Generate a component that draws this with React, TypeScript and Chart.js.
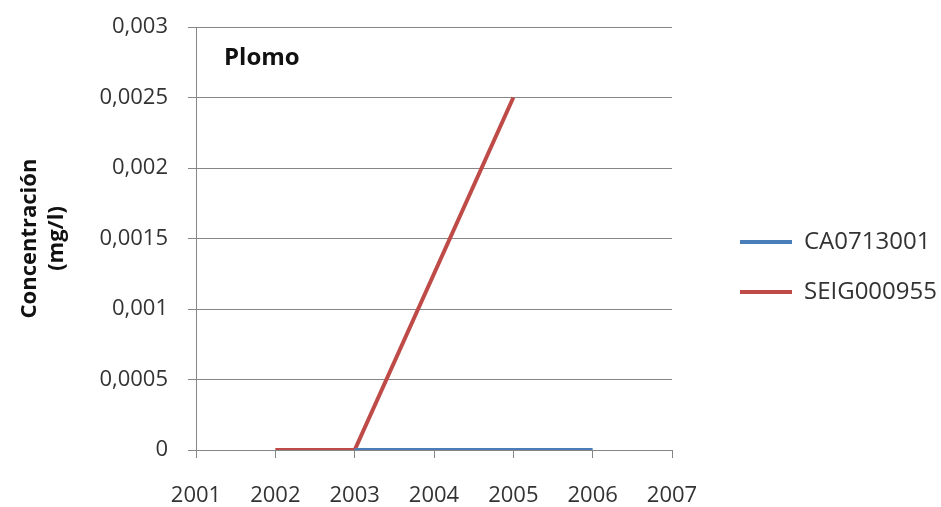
import React, { useEffect, useRef } from 'react';
import { Chart, registerables } from 'chart.js';

Chart.register(...registerables);

const chartTitle = 'Plomo';
const yAxisTitle = ['Concentración', '(mg/l)'];
const xTickYears = [2001, 2002, 2003, 2004, 2005, 2006, 2007];
const yTickValues = [0, 0.0005, 0.001, 0.0015, 0.002, 0.0025, 0.003];
const yTickLabels = ['0', '0,0005', '0,001', '0,0015', '0,002', '0,0025', '0,003'];
const seriesNames = ['CA0713001', 'SEIG000955'];
const seriesColors = ['#4A7EBB', '#BE4B48'];
const caYears = [2003, 2004, 2005, 2006];
const caValues = [0, 0, 0, 0];
const seigYears = [2002, 2003, 2005];
const seigValues = [0, 0, 0.0025];

const FONT = '"Open Sans", "DejaVu Sans", sans-serif';
const GRID = '#868686';
const TEXT = '#333333';

const innerTitle = {
  id: 'innerTitle',
  afterDraw(chart: any) {
    const { ctx, chartArea } = chart;
    ctx.save();
    ctx.font = `bold 24px ${FONT}`;
    ctx.fillStyle = '#111';
    ctx.textBaseline = 'middle';
    ctx.textAlign = 'left';
    ctx.fillText(chartTitle, chartArea.left + 28, chartArea.top + 31);
    ctx.restore();
  },
};

export default function App() {
  const ref = useRef<HTMLCanvasElement | null>(null);

  useEffect(() => {
    if (!ref.current) return;
    const chart = new Chart(ref.current, {
      type: 'line',
      data: {
        datasets: [
          {
            label: seriesNames[0],
            data: caYears.map((x, i) => ({ x, y: caValues[i] })),
            borderColor: seriesColors[0],
            backgroundColor: seriesColors[0],
            borderWidth: 4,
            pointRadius: 0,
            tension: 0,
          },
          {
            label: seriesNames[1],
            data: seigYears.map((x, i) => ({ x, y: seigValues[i] })),
            borderColor: seriesColors[1],
            backgroundColor: seriesColors[1],
            borderWidth: 4,
            pointRadius: 0,
            tension: 0,
          },
        ],
      },
      options: {
        animation: false,
        responsive: false,
        layout: { padding: { top: 27, right: 0, bottom: 0, left: 0 } },
        plugins: {
          tooltip: { enabled: false },
          legend: {
            position: 'right',
            maxWidth: 227,
            labels: {
              usePointStyle: true,
              pointStyle: 'line',
              pointStyleWidth: 52,
              padding: 26,
              color: TEXT,
              font: { family: FONT, size: 24 },
            },
          },
        },
        scales: {
          x: {
            type: 'linear',
            min: 2001,
            max: 2007,
            afterBuildTicks: (s: any) => {
              s.ticks = xTickYears.map((v) => ({ value: v }));
            },
            afterFit: (s: any) => {
              s.height = 57;
            },
            ticks: {
              callback: (v: any) => String(v),
              color: TEXT,
              font: { family: FONT, size: 22 },
              padding: 25,
              maxRotation: 0,
              autoSkip: false,
            },
            grid: { display: true, drawOnChartArea: false, color: GRID, tickLength: 8 },
            border: { display: true, color: GRID },
          },
          y: {
            type: 'linear',
            min: 0,
            max: 0.003,
            afterBuildTicks: (s: any) => {
              s.ticks = yTickValues.map((v) => ({ value: v }));
            },
            afterFit: (s: any) => {
              s.width = 196;
              s.paddingTop = 0;
              s.paddingBottom = 0;
            },
            ticks: {
              callback: (_v: any, i: number) => yTickLabels[i],
              color: TEXT,
              font: { family: FONT, size: 22 },
              padding: 20,
            },
            grid: { color: GRID, tickLength: 8 },
            border: { display: true, color: GRID },
            title: {
              display: true,
              text: yAxisTitle,
              color: '#111',
              font: { family: FONT, size: 22, weight: 'bold', lineHeight: 1.23 },
              padding: { top: 16, bottom: 0 },
            },
          },
          spacer: {
            type: 'linear',
            position: 'right',
            display: true,
            afterFit: (s: any) => {
              s.width = 42;
            },
            ticks: { display: false },
            grid: { display: false },
            border: { display: false },
          },
        },
      } as any,
      plugins: [innerTitle],
    });
    return () => chart.destroy();
  }, []);

  return (
    <div style={{ position: 'absolute', left: 0, top: 0, width: 941, height: 507, background: '#fff' }}>
      <canvas ref={ref} width={941} height={507} />
    </div>
  );
}
